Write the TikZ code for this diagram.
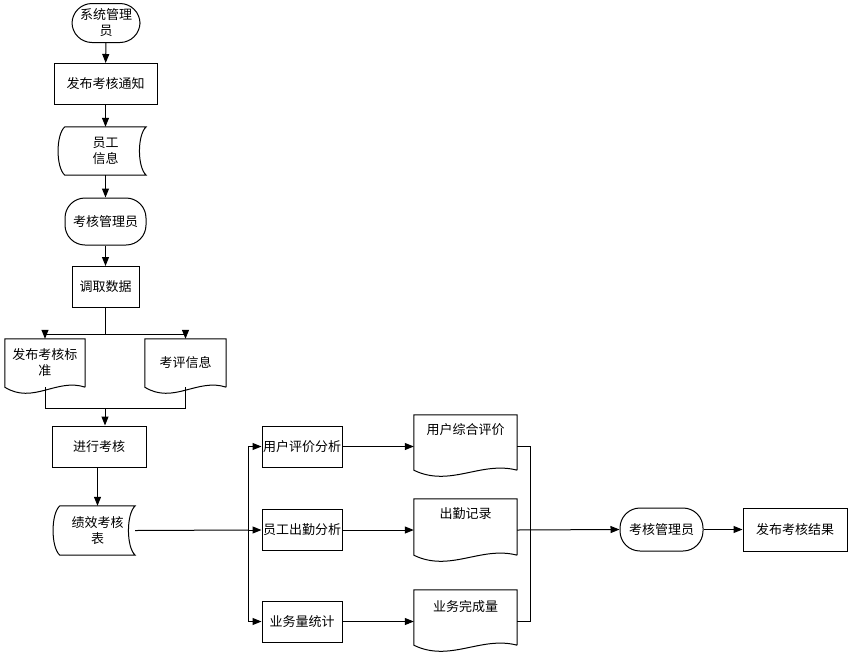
\documentclass[tikz,border=0pt]{standalone}
\usepackage{fontspec}
\setmainfont{Noto Sans CJK SC}
\usetikzlibrary{arrows.meta,calc}
\begin{document}
\begin{tikzpicture}[x=1pt,y=-1pt,
  every node/.style={font=\fontsize{13}{16}\selectfont, align=center, inner sep=1pt},
  box/.style={draw, line width=1pt, minimum width=#1, minimum height=41pt},
  term/.style={draw, line width=1pt, rounded corners=20pt, minimum height=42pt},
  blank/.style={draw=none, minimum width=#1},
  ln/.style={line width=1pt},
  ar/.style={ln, -{Triangle[length=9pt,width=7pt]}}]
\useasboundingbox (0,0) rectangle (848,654);
% nodes
\node[term, minimum width=68pt, minimum height=39pt] (sys) at (106,23) {系统管理\\员};
\node[box=103pt] (notice) at (105.5,84) {发布考核通知};
\node[blank=81pt, minimum height=48pt] (info) at (105.5,151) {员工\\信息};
\node[term, minimum width=81pt, minimum height=47pt] (mgr) at (105.5,221.5) {考核管理员};
\node[box=67pt] (fetch) at (105.5,287) {调取数据};
\node[blank=80pt, minimum height=48pt] (std) at (45,363) {发布考核标\\准};
\node[blank=81pt, minimum height=48pt] (eval) at (185.5,363) {考评信息};
\node[box=94pt] (do) at (99,446.5) {进行考核};
\node[blank=75pt, minimum height=49pt] (tab) at (97.5,530.5) {绩效考核\\表};
\node[box=80pt] (a1) at (302,446.5) {用户评价分析};
\node[box=80pt] (a2) at (302,530) {员工出勤分析};
\node[box=80pt] (a3) at (302,621.5) {业务量统计};
\node[blank=103pt, minimum height=55pt] (d1) at (465.5,442.5) {用户综合评价\\[12pt]};
\node[blank=103pt, minimum height=56pt] (d2) at (465.5,527) {出勤记录\\[12pt]};
\node[blank=103pt, minimum height=55pt] (d3) at (465.5,617.5) {业务完成量\\[8pt]};
\node[term, minimum width=83pt, minimum height=43pt] (mgr2) at (661.5,529.5) {考核管理员};
\node[box=104pt, minimum height=43pt] (res) at (795,529.5) {发布考核结果};
% stored data shapes
\foreach \n in {info,tab}{
  \draw[ln] (\n.north west) -- (\n.north east)
    .. controls ($(\n.north east)+(-9,8)$) and ($(\n.south east)+(-9,-8)$) .. (\n.south east)
    -- (\n.south west)
    .. controls ($(\n.south west)+(-9,-8)$) and ($(\n.north west)+(-9,8)$) .. (\n.north west);
}
% document shapes
\foreach \n/\w in {std/8,eval/8,d1/8,d2/8,d3/8}{
  \draw[ln] (\n.south east) -- (\n.north east) -- (\n.north west) -- (\n.south west)
    .. controls ($(\n.south west)!0.35!(\n.south east)+(0,2.2*\w)$) and ($(\n.south west)!0.65!(\n.south east)+(0,-1.2*\w)$) .. (\n.south east);
}
% connectors
\draw[ar] (sys) -- (notice);
\draw[ar] (notice) -- (info);
\draw[ar] (info) -- (mgr);
\draw[ar] (mgr) -- (fetch);
\coordinate (j1) at ($(fetch.south)+(0,26)$);
\draw[ln] (fetch.south) -- (j1);
\draw[ar] (j1) -| (std.north);
\draw[ar] (j1) -| (eval.north);
\coordinate (j2) at (105,408);
\draw[ln] (std.south) ++(0,6) |- (j2);
\draw[ln] (eval.south) |- (j2);
\draw[ln] (std.south) -- ++(0,6);
\draw[ar] (j2) -- (do.north -| j2);
\draw[ar] (do.south -| tab.north) -- (tab.north);
\coordinate (j3) at (248,530);
\draw[ln] (tab.east) -- (j3);
\draw[ar] (j3) |- (a1.west);
\draw[ar] (j3) -- (a2.west);
\draw[ar] (j3) |- (a3.west);
\draw[ar] (a1) -- (a1 -| d1.west);
\draw[ar] (a2) -- (a2 -| d2.west);
\draw[ar] (a3) -- (a3 -| d3.west);
\coordinate (j4) at (530,530);
\draw[ln] (d1.east |- a1) -| (j4);
\draw[ln] (d3.east |- a3) -| (j4);
\draw[ar] (d2.east |- j4) -- (mgr2.west);
\draw[ar] (mgr2) -- (res);
\end{tikzpicture}
\end{document}
